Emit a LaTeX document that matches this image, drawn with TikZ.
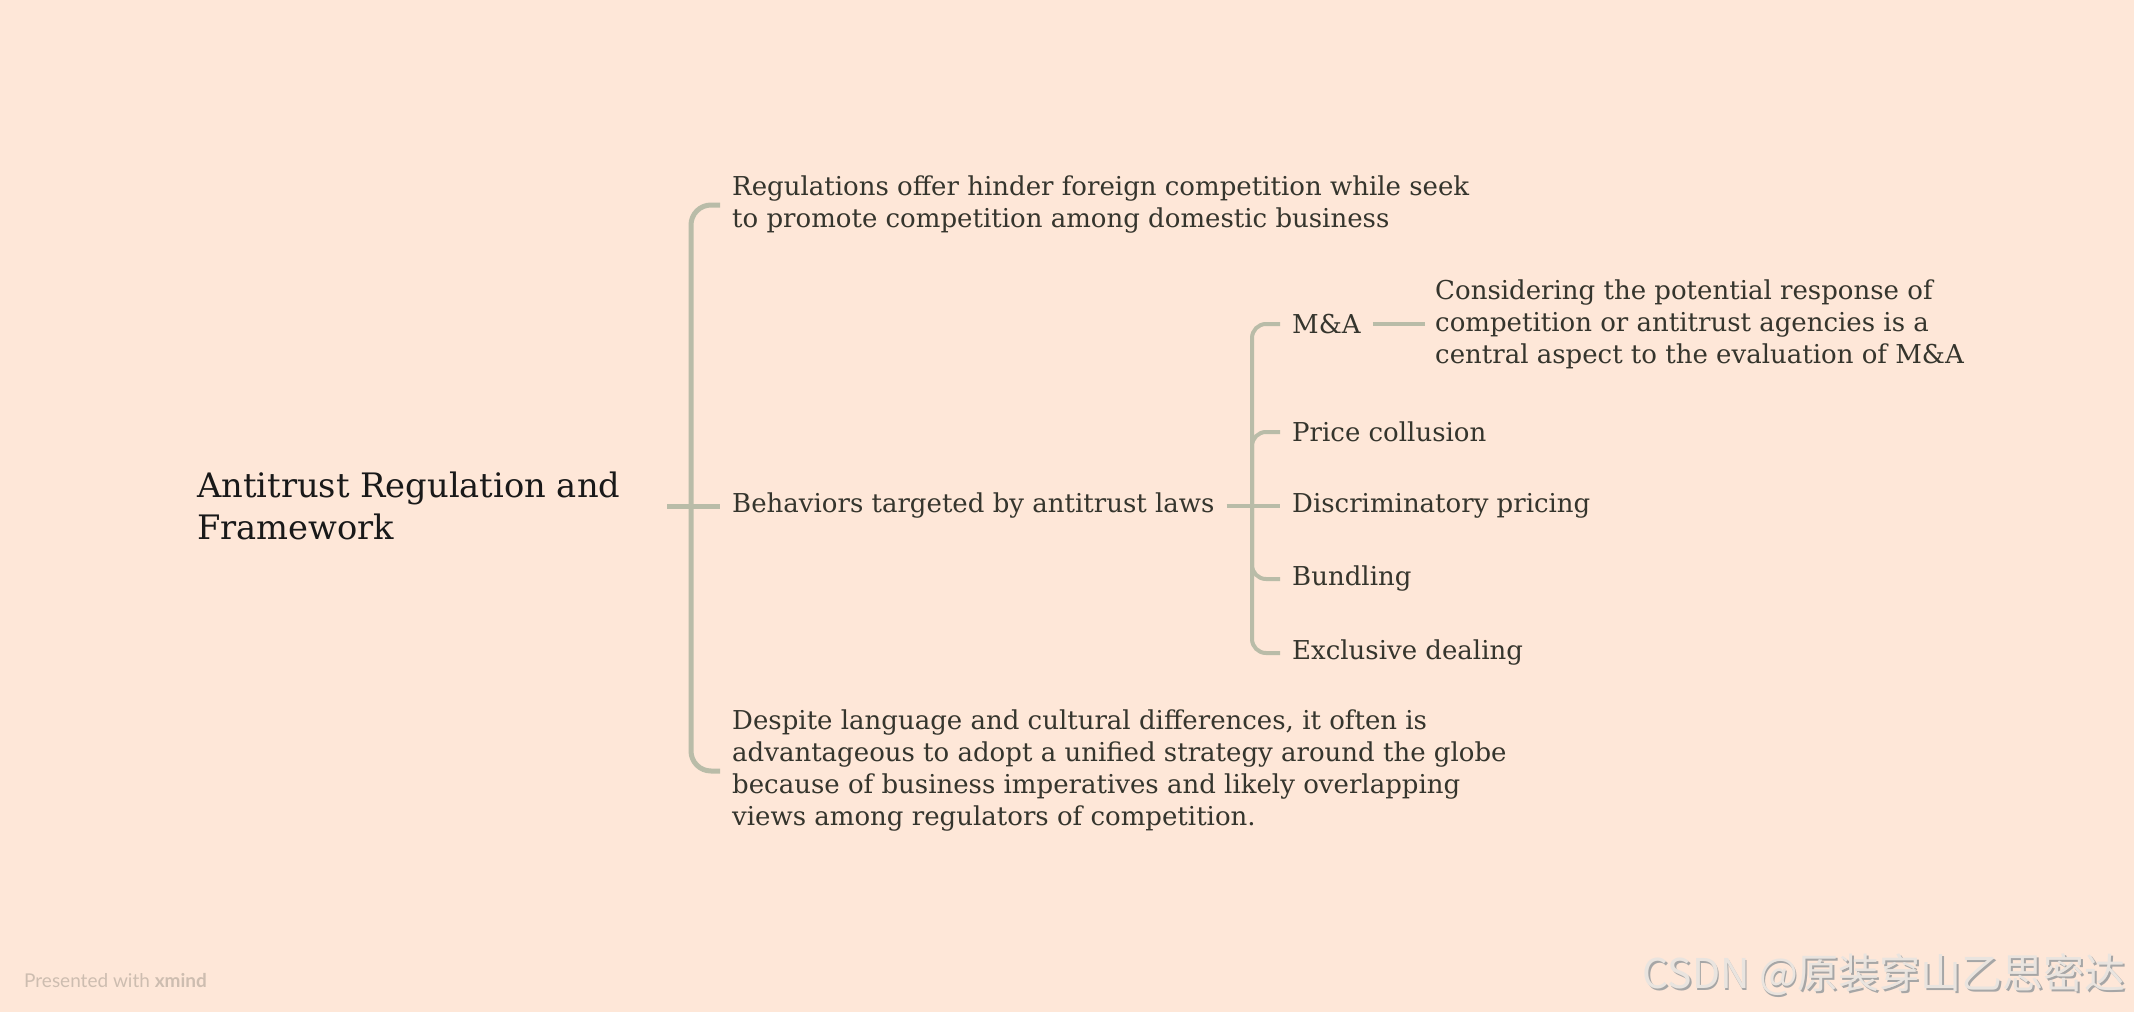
\documentclass[tikz,border=0pt]{standalone}
\usepackage{fontspec}
\setmainfont{DejaVu Serif}
\newfontfamily\wmfont{Lato}
\newfontfamily\cjkfont{Noto Sans CJK SC}
\definecolor{bg}{HTML}{FEE7D8}
\definecolor{branch}{HTML}{B9BCA8}
\definecolor{txt}{HTML}{35352D}
\definecolor{wm}{HTML}{CDBDB0}
\definecolor{csdn}{HTML}{E9E4DF}
\begin{document}
\begin{tikzpicture}[x=1pt,y=-1pt,
  rootbox/.style={anchor=west, inner sep=0pt, align=left, text=black!90, font=\fontsize{33.7}{42}\selectfont},
  topic/.style={anchor=west, inner ysep=0pt, inner xsep=12pt, align=left, text=txt, font=\fontsize{26}{32}\selectfont},
  mainline/.style={draw=branch, line width=5pt},
  subline/.style={draw=branch, line width=4pt},
]
\fill[bg] (0,0) rectangle (2134,1012);
\useasboundingbox (0,0) rectangle (2134,1012);

% root
\node[rootbox] (root) at (197,506) {Antitrust Regulation and\\Framework};
\coordinate (rootout) at (667,506);
\coordinate (mb) at (691,506);

% level 1
\node[topic] (n1) at (720,205) {Regulations offer hinder foreign competition while seek\\to promote competition among domestic business};
\node[topic] (n2) at (720,506) {Behaviors targeted by antitrust laws};
\node[topic] (n3) at (720,771) {Despite language and cultural differences, it often is\\advantageous to adopt a unified strategy around the globe\\because of business imperatives and likely overlapping\\views among regulators of competition.};

\draw[mainline] (rootout) -- (n2.west);
\draw[mainline, rounded corners=20pt] (mb) |- (n1.west);
\draw[mainline, rounded corners=20pt] (mb) |- (n3.west);

% level 2
\coordinate (sb) at (1252,506);
\node[topic] (c1) at (1280,324) {M\&A};
\node[topic] (c2) at (1280,432) {Price collusion};
\node[topic] (c3) at (1280,506) {Discriminatory pricing};
\node[topic] (c4) at (1280,579) {Bundling};
\node[topic] (c5) at (1280,653) {Exclusive dealing};

\draw[subline] (n2.east) -- (c3.west);
\draw[subline, rounded corners=14pt] (sb) |- (c1.west);
\draw[subline, rounded corners=14pt] (sb) |- (c2.west);
\draw[subline, rounded corners=14pt] (sb) |- (c4.west);
\draw[subline, rounded corners=14pt] (sb) |- (c5.west);

% level 3
\node[topic, inner xsep=10pt] (d1) at (1425,324) {Considering the potential response of\\competition or antitrust agencies is a\\central aspect to the evaluation of M\&A};
\draw[subline] (c1.east) -- (d1.west);

% watermarks
\node[anchor=west, inner sep=0pt, text=wm, font=\wmfont\fontsize{19}{21}\selectfont] (pw) at (24,981) {Presented with \textbf{xmind}};
\node[anchor=east, inner sep=0pt, text=black!35, font=\cjkfont\fontsize{41}{43}\selectfont] (csdnshadow) at (2127.5,976.5) {CSDN @原装穿山乙思密达};
\node[anchor=east, inner sep=0pt, text=csdn, font=\cjkfont\fontsize{41}{43}\selectfont] (csdnmark) at (2126,975) {CSDN @原装穿山乙思密达};
\end{tikzpicture}
\end{document}
